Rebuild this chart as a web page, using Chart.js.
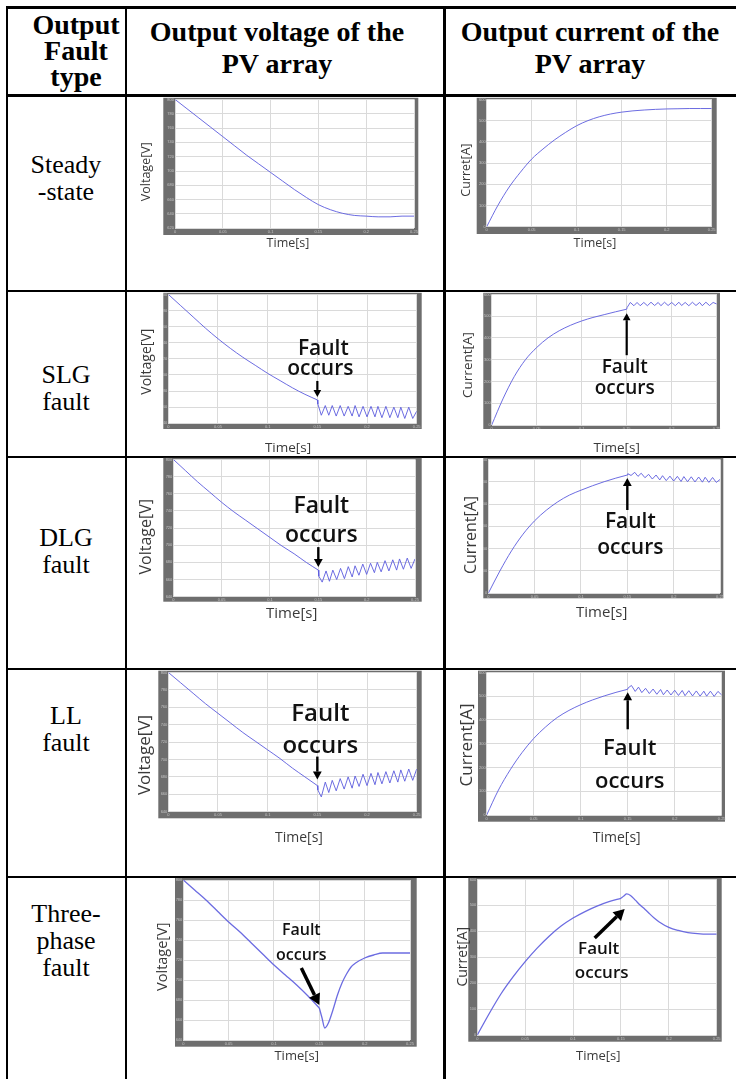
<!DOCTYPE html>
<html>
<head>
<meta charset="utf-8">
<title>PV array output under faults</title>
<script src="https://cdn.jsdelivr.net/npm/chart.js"></script>
<style>
  body { margin: 0; background: #fff; }
  #page { position: relative; width: 736px; height: 1079px; overflow: hidden; font-family: "Liberation Serif", "Times New Roman", serif; color: #000; }
  .ln { position: absolute; background: #000; }
  .hd { position: absolute; font-weight: bold; font-size: 28px; text-align: center; white-space: nowrap; }
  .rl { position: absolute; left: 7px; width: 118px; font-size: 26px; line-height: 27px; text-align: center; }
  canvas { position: absolute; }
</style>
</head>
<body>
<div id="page"></div>
<script>
// table text
const headers = ['Output<br>Fault<br>type', 'Output voltage of the<br>PV array', 'Output current of the<br>PV array'];
const faultTypes = ['Steady<br>-state', 'SLG<br>fault', 'DLG<br>fault', 'LL<br>fault', 'Three-<br>phase<br>fault'];

// axis ticks (seconds, volts, amps)
const timeTicks = [0, 0.05, 0.1, 0.15, 0.2, 0.25];
const voltTicks9 = [620, 640, 660, 680, 700, 720, 740, 760, 780, 800];
const voltTicks8 = [640, 660, 680, 700, 720, 740, 760, 780, 800];
const currTicks = [0, 100, 200, 300, 400, 500, 600];

// sample times
const tFull = [0, 0.0125, 0.025, 0.0375, 0.05, 0.0625, 0.075, 0.0875, 0.1, 0.1125, 0.125, 0.1375, 0.15,
  0.1625, 0.175, 0.1875, 0.2, 0.2125, 0.225, 0.2375, 0.25];
const tPre = [0, 0.0125, 0.025, 0.0375, 0.05, 0.0625, 0.075, 0.0875, 0.1, 0.1125, 0.125, 0.1375, 0.15];
const tZig = [0.1505, 0.154, 0.158, 0.1615, 0.165, 0.169, 0.173, 0.177, 0.181, 0.185, 0.188, 0.192, 0.196, 0.2,
  0.204, 0.208, 0.211, 0.215, 0.219, 0.223, 0.227, 0.231, 0.234, 0.238, 0.242, 0.246, 0.25];
const tPost3 = [0.153, 0.156, 0.16, 0.165, 0.17, 0.175, 0.18, 0.185, 0.19, 0.2, 0.21, 0.22, 0.23, 0.24, 0.25];

// steady state
const steadyVolt = [800, 787, 774, 761, 748, 735, 722, 710, 698, 686, 674, 663, 653, 646, 641, 638, 637, 636, 636, 637, 637];
const steadyCurr = [0, 101, 187, 257, 319, 366, 408, 444, 476, 500, 518, 531, 540, 546, 550, 553, 555, 556, 557, 557, 557];

// SLG fault
const slgVoltPre = [800, 786, 772, 758, 745, 733, 722, 712, 702, 693, 684, 676, 669];
const slgVoltPost = [664, 650, 662, 650, 662, 649, 662, 649, 661, 649, 662, 648, 661, 648, 661, 648, 661, 647, 661, 647, 660, 647, 660, 646, 660, 646, 655];
const slgCurrPre = [0, 120, 222, 300, 356, 400, 433, 458, 478, 494, 507, 520, 532];
const slgCurrPost = [540, 563, 548, 563, 548, 563, 548, 564, 549, 563, 548, 564, 549, 563, 548, 564, 549, 563, 548, 564, 549, 563, 548, 564, 549, 563, 556];

// DLG fault
const dlgVoltPre = [800, 787, 774, 762, 750, 739, 729, 719, 709, 699, 690, 680, 671];
const dlgVoltPost = [664, 657, 670, 658, 671, 660, 673, 661, 675, 663, 676, 665, 678, 666, 679, 668, 680, 669, 682, 670, 683, 671, 684, 672, 685, 673, 684];
const dlgCurrPre = [0, 100, 190, 265, 325, 372, 410, 440, 462, 482, 500, 516, 530];
const dlgCurrPost = [536, 528, 542, 524, 538, 518, 533, 512, 530, 508, 527, 505, 525, 503, 524, 501, 523, 500, 522, 499, 521, 498, 520, 497, 519, 497, 510];

// LL fault
const llVoltPre = [800, 788, 776, 764, 753, 742, 731, 721, 711, 701, 690, 680, 670];
const llVoltPost = [665, 657, 674, 662, 676, 664, 678, 666, 680, 667, 681, 669, 683, 670, 684, 671, 685, 672, 686, 673, 687, 674, 688, 675, 689, 676, 689];
const llCurrPre = [0, 105, 190, 262, 322, 370, 410, 440, 464, 484, 501, 516, 529];
const llCurrPost = [535, 545, 520, 538, 515, 533, 511, 530, 508, 528, 506, 526, 505, 525, 503, 524, 502, 523, 501, 522, 500, 521, 500, 521, 499, 520, 505];

// three-phase fault
const tpVoltPre = [800, 790, 780, 769, 758, 748, 737, 726, 715, 705, 695, 684, 672];
const tpVoltPost = [662, 652, 657, 670, 685, 697, 706, 713, 717, 722, 725, 727, 727, 727, 727];
const tpCurrPre = [0, 83, 160, 225, 283, 335, 381, 420, 451, 476, 497, 514, 527];
const tpCurrPost = [536, 544, 538, 520, 501, 485, 467, 450, 436, 415, 403, 395, 391, 389, 389];

const page = document.getElementById('page');

// table rules
function rule(l, t, w, h) {
  const d = document.createElement('div');
  d.className = 'ln';
  d.style.cssText = `left:${l}px;top:${t}px;width:${w}px;height:${h}px`;
  page.appendChild(d);
}
rule(5.5, 6, 731, 2.5);
rule(5.5, 6, 2.5, 1073);
rule(125, 6, 2, 1073);
rule(443, 6, 2.5, 1073);
rule(5.5, 94, 731, 2.5);
[289.5, 455.5, 667.5, 875.5].forEach(y => rule(5.5, y, 731, 2));

// header cells
[[17, 118, 11.5, 26], [127, 300, 15.6, 32], [445, 290, 15.6, 32]].forEach((p, i) => {
  const d = document.createElement('div');
  d.className = 'hd';
  d.style.cssText = `left:${p[0]}px;width:${p[1]}px;top:${p[2]}px;line-height:${p[3]}px`;
  d.innerHTML = headers[i];
  page.appendChild(d);
});

// fault type labels (block centres)
[178, 388, 551, 729, 940].forEach((c, i) => {
  const d = document.createElement('div');
  d.className = 'rl';
  const n = faultTypes[i].split('<br>').length;
  d.style.top = (c - n * 27 / 2) + 'px';
  d.innerHTML = faultTypes[i];
  page.appendChild(d);
});

const lineCol = 'rgba(92,92,222,0.9)';

// one entry per chart: canvas box, plot area (page px), frame sizes l/r/t/b
const cells = [
  { box: [127, 96, 316, 194], plot: [175, 98.3, 414, 228.3], frame: [11.7, 4.3, 1.6, 6.7], yTicks: voltTicks9,
    pre: [tFull, steadyVolt], yTitle: ['Voltage[V]', 146.7, 171.7, 12.5], xTitle: ['Time[s]', 288, 243, 12.5] },
  { box: [445, 96, 291, 194], plot: [486.7, 98.3, 711.7, 226.7], frame: [10, 5, 1.6, 7.3], yTicks: currTicks,
    pre: [tFull, steadyCurr], yTitle: ['Curret[A]', 466.7, 170, 12.5], xTitle: ['Time[s]', 595, 243, 12.5] },

  { box: [127, 291, 316, 165], plot: [168.3, 293.3, 416.7, 423.3], frame: [5, 5, 1.6, 5.7], yTicks: voltTicks8,
    pre: [tPre, slgVoltPre], post: [tZig, slgVoltPost], yTitle: ['Voltage[V]', 146.7, 361.7, 14], xTitle: ['Time[s]', 288, 448, 13.5],
    note: { at: [0.15, 669], arrow: [0, -19, 0, -3], lw: 2.2, head: 7, size: 21, l1: [6, -45], l2: [3, -25] } },
  { box: [445, 291, 291, 165], plot: [491.7, 293.3, 716.7, 425], frame: [8.4, 3.3, 1.6, 4], yTicks: currTicks,
    pre: [tPre, slgCurrPre], post: [tZig, slgCurrPost], yTitle: ['Current[A]', 468.3, 365, 13.5], xTitle: ['Time[s]', 616.7, 448, 13.5],
    note: { at: [0.15, 532], arrow: [0, 46, 0, 4], lw: 2.2, head: 7, size: 19, l1: [-2, 64], l2: [-2, 85] } },

  { box: [127, 456, 316, 211], plot: [173.3, 458.3, 415, 596.7], frame: [10, 6.7, 1.6, 5], yTicks: voltTicks8,
    pre: [tPre, dlgVoltPre], post: [tZig, dlgVoltPost], yTitle: ['Voltage[V]', 146.7, 536.7, 16], xTitle: ['Time[s]', 291.7, 613.3, 15],
    note: { at: [0.15, 671], arrow: [0, -23, 0, -3], lw: 2.4, head: 8, size: 23, l1: [3, -57], l2: [3, -28] } },
  { box: [445, 456, 291, 211], plot: [488.3, 458.3, 720, 593.3], frame: [5, 3.3, 1.6, 5], yTicks: currTicks,
    pre: [tPre, dlgCurrPre], post: [tZig, dlgCurrPost], yTitle: ['Current[A]', 471.7, 535, 16], xTitle: ['Time[s]', 601.7, 613, 15],
    note: { at: [0.15, 530], arrow: [0, 35, 0, 3], lw: 2.4, head: 8, size: 21, l1: [3, 53], l2: [3, 79] } },

  { box: [127, 669, 316, 207], plot: [168.3, 671.7, 416.7, 811.7], frame: [10, 5, 1.7, 6.6], yTicks: voltTicks8,
    pre: [tPre, llVoltPre], post: [tZig, llVoltPost], yTitle: ['Voltage[V]', 145.5, 755, 17], xTitle: ['Time[s]', 299, 838, 14],
    note: { at: [0.15, 670], arrow: [0, -29, 0, -6], lw: 2.4, head: 8, size: 24, l1: [3, -65], l2: [3, -33] } },
  { box: [445, 669, 291, 207], plot: [486.7, 671.7, 721.7, 815], frame: [8.7, 3.3, 1.7, 6.7], yTicks: currTicks,
    pre: [tPre, llCurrPre], post: [tZig, llCurrPost], yTitle: ['Current[A]', 466.7, 745, 17], xTitle: ['Time[s]', 616.7, 838.3, 14],
    note: { at: [0.15, 529], arrow: [0, 40, 0, 3], lw: 2.4, head: 8, size: 22, l1: [2, 66], l2: [2, 99] } },

  { box: [127, 876, 316, 203], plot: [183.3, 880, 410, 1040], frame: [8.3, 6.7, 2, 6.7], yTicks: voltTicks8,
    pre: [tPre, tpVoltPre], post: [tPost3, tpVoltPost], smoothPost: true, yTitle: ['Voltage[V]', 163.3, 956.7, 14.5], xTitle: ['Time[s]', 296.7, 1056.7, 13],
    note: { at: [0.15, 672], arrow: [-18, -40, 0, -3], lw: 3.5, head: 11, size: 16, l1: [-18, -73], l2: [-18, -48] } },
  { box: [445, 876, 291, 203], plot: [477.3, 878.3, 716.7, 1035], frame: [9, 5, 1.6, 6.7], yTicks: currTicks,
    pre: [tPre, tpCurrPre], post: [tPost3, tpCurrPost], smoothPost: true, yTitle: ['Curret[A]', 463.3, 956.7, 14], xTitle: ['Time[s]', 598.3, 1056.7, 13],
    note: { at: [tPost3[1], tpCurrPost[1]], arrow: [-32, 44, -2, 15], lw: 3.5, head: 11, size: 17, l1: [-28, 60], l2: [-25, 84] } }
];

function pts(ts, vs) {
  return ts.map((t, i) => ({ x: t, y: vs[i] }));
}

function arrow(g, x0, y0, x1, y1, lw, head) {
  const ang = Math.atan2(y1 - y0, x1 - x0);
  const bx = x1 - Math.cos(ang) * head, by = y1 - Math.sin(ang) * head;
  g.strokeStyle = '#000';
  g.lineWidth = lw;
  g.beginPath(); g.moveTo(x0, y0); g.lineTo(bx, by); g.stroke();
  g.fillStyle = '#000';
  g.beginPath();
  g.moveTo(x1, y1);
  g.lineTo(bx + Math.sin(ang) * head * 0.55, by - Math.cos(ang) * head * 0.55);
  g.lineTo(bx - Math.sin(ang) * head * 0.55, by + Math.cos(ang) * head * 0.55);
  g.closePath(); g.fill();
}

cells.forEach(c => {
  const [bx, by, bw, bh] = c.box;
  const [pl, pt, pr, pb] = c.plot;
  const [fl, fr, ft, fb] = c.frame;
  const cv = document.createElement('canvas');
  cv.width = bw; cv.height = bh;
  cv.style.left = bx + 'px'; cv.style.top = by + 'px';
  page.appendChild(cv);

  const datasets = [{ data: pts(c.pre[0], c.pre[1]), cubicInterpolationMode: 'monotone' }];
  if (c.post) {
    const last = c.pre[1].length - 1;
    datasets.push({
      data: [{ x: c.pre[0][last], y: c.pre[1][last] }].concat(pts(c.post[0], c.post[1])),
      cubicInterpolationMode: c.smoothPost ? 'monotone' : 'default', tension: 0
    });
  }
  datasets.forEach(d => { d.borderColor = lineCol; d.borderWidth = c.smoothPost ? 1.3 : 1; d.pointRadius = 0; });

  const deco = {
    id: 'deco',
    beforeDraw(ch) {
      const a = ch.chartArea, g = ch.ctx;
      g.save();
      g.fillStyle = '#6e6e6e';
      g.fillRect(a.left - fl, a.top - ft, a.right - a.left + fl + fr, a.bottom - a.top + ft + fb);
      g.fillStyle = '#fff';
      g.fillRect(a.left, a.top, a.right - a.left, a.bottom - a.top);
      g.restore();
    },
    afterDraw(ch) {
      const g = ch.ctx;
      g.save();
      g.fillStyle = '#3a3a3a';
      g.textAlign = 'center';
      g.textBaseline = 'middle';
      const [yt, yx, yy, ys] = c.yTitle;
      g.font = `${ys}px "Open Sans"`;
      g.save();
      g.translate(yx - bx, yy - by);
      g.rotate(-Math.PI / 2);
      g.fillText(yt, 0, 0);
      g.restore();
      const [xt, xx, xy, xs] = c.xTitle;
      g.font = `${xs}px "Open Sans"`;
      g.fillText(xt, xx - bx, xy - by);

      if (c.note) {
        const n = c.note;
        const px = ch.scales.x.getPixelForValue(n.at[0]);
        const py = ch.scales.y.getPixelForValue(n.at[1]);
        arrow(g, px + n.arrow[0], py + n.arrow[1], px + n.arrow[2], py + n.arrow[3], n.lw, n.head);
        g.fillStyle = '#111';
        g.textBaseline = 'alphabetic';
        g.font = `600 ${n.size}px "Open Sans"`;
        g.fillText('Fault', px + n.l1[0], py + n.l1[1]);
        g.fillText('occurs', px + n.l2[0], py + n.l2[1]);
      }
      g.restore();
    }
  };

  new Chart(cv, {
    type: 'line',
    data: { datasets },
    options: {
      responsive: false,
      animation: false,
      devicePixelRatio: 1,
      layout: {
        autoPadding: false,
        padding: { left: pl - fl - bx, top: pt - by, right: bx + bw - pr, bottom: by + bh - pb - fb }
      },
      plugins: { legend: { display: false }, tooltip: { enabled: false } },
      scales: {
        x: {
          type: 'linear', min: 0, max: 0.25,
          afterBuildTicks: s => { s.ticks = timeTicks.map(v => ({ value: v })); },
          afterFit: s => { s.height = fb; },
          grid: { color: '#dadada', drawTicks: false },
          border: { display: false },
          ticks: { font: { size: 4 }, color: '#c4c4c4', padding: 1, maxRotation: 0, autoSkip: false, callback: v => String(v) }
        },
        y: {
          type: 'linear', min: c.yTicks[0], max: c.yTicks[c.yTicks.length - 1],
          afterBuildTicks: s => { s.ticks = c.yTicks.map(v => ({ value: v })); },
          afterFit: s => { s.width = fl; },
          grid: { color: '#dadada', drawTicks: false },
          border: { display: false },
          ticks: { font: { size: 4 }, color: '#c4c4c4', padding: 1, autoSkip: false, callback: v => String(v) }
        }
      }
    },
    plugins: [deco]
  });
});
</script>
</body>
</html>
